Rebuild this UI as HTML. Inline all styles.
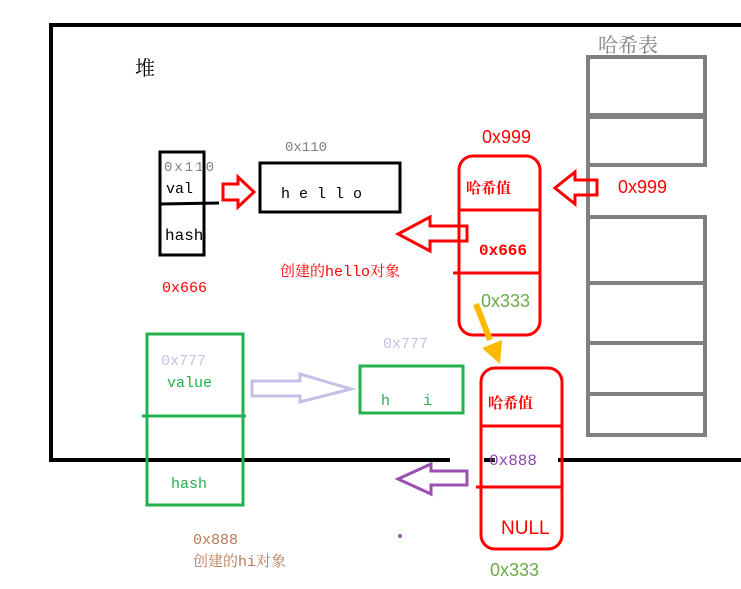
<!DOCTYPE html>
<html><head><meta charset="utf-8"><style>
html,body{margin:0;padding:0;background:#fff;}
svg{display:block;}
text{font-family:"Liberation Mono","Noto Serif CJK SC",monospace;}
.s{font-family:"Liberation Sans","Noto Sans CJK SC",sans-serif;}
.c{font-family:"Noto Serif CJK SC","Liberation Serif",serif;}
</style></head><body>
<svg width="741" height="589" viewBox="0 0 741 589" xmlns="http://www.w3.org/2000/svg">
<path d="M741 25 H51 V460 H450 M484 460 H495 M558 460 H741" fill="none" stroke="#000" stroke-width="4"/>
<text class="c" x="135" y="75" font-size="20" fill="#000">堆</text>
<text class="c" x="598" y="52" font-size="20" fill="#808080">哈希表</text>
<g fill="none" stroke="#808080" stroke-width="4">
<line x1="588" y1="55" x2="588" y2="437"/>
<rect x="588" y="57" width="117" height="58"/>
<rect x="588" y="117" width="117" height="48"/>
<rect x="588" y="217" width="117" height="218"/>
<line x1="590" y1="283" x2="705" y2="283"/>
<line x1="588" y1="343" x2="705" y2="343"/>
<line x1="588" y1="394" x2="705" y2="394"/>
</g>
<rect x="160" y="152" width="44" height="103" fill="none" stroke="#000" stroke-width="3"/>
<line x1="160" y1="204" x2="219" y2="203" stroke="#000" stroke-width="3"/>
<text x="164" y="171" font-size="14" fill="#808080" textLength="50">0x110</text>
<text x="166" y="193" font-size="15" fill="#000">val</text>
<text x="165" y="240" font-size="16" fill="#000">hash</text>
<text x="162" y="292" font-size="15" fill="#f00">0x666</text>
<rect x="260" y="163" width="140" height="49" fill="none" stroke="#000" stroke-width="3"/>
<text x="285" y="151" font-size="14" fill="#808080">0x110</text>
<text x="281" y="198" font-size="15" fill="#000" letter-spacing="9">hello</text>
<path d="M223 184 H238 V177 L254 192 L238 207 V200 H223 Z" fill="none" stroke="#f00" stroke-width="3"/>
<text x="280" y="276" font-size="15" fill="#f00">创建的hello对象</text>
<rect x="459" y="156" width="81" height="179" rx="14" fill="none" stroke="#f00" stroke-width="3"/>
<line x1="459" y1="210" x2="540" y2="210" stroke="#f00" stroke-width="3"/>
<line x1="453" y1="273" x2="540" y2="273" stroke="#f00" stroke-width="3"/>
<text class="s" x="482" y="143" font-size="18" fill="#f00">0x999</text>
<text class="c" x="466" y="193" font-size="15" fill="#f00" font-weight="bold">哈希值</text>
<text x="479" y="255" font-size="16" fill="#f00" font-weight="bold">0x666</text>
<text class="s" x="481" y="307" font-size="18" fill="#6aaa48">0x333</text>
<path d="M467 226 V241 H430 V251 L398 234 L430 217 V226 Z" fill="none" stroke="#f00" stroke-width="3"/>
<path d="M597 180 V195 H575 V204 L555 188 L575 172 V180 Z" fill="none" stroke="#f00" stroke-width="3"/>
<text class="s" x="618" y="193" font-size="18" fill="#f00">0x999</text>
<line x1="476" y1="304" x2="490" y2="340" stroke="#ffb900" stroke-width="6"/>
<polygon points="482,348 502,340 500,364" fill="#ffb900"/>
<rect x="481" y="368" width="81" height="181" rx="14" fill="none" stroke="#f00" stroke-width="3"/>
<line x1="481" y1="426" x2="562" y2="426" stroke="#f00" stroke-width="3"/>
<line x1="476" y1="487" x2="562" y2="487" stroke="#f00" stroke-width="3"/>
<text class="c" x="488" y="408" font-size="15" fill="#f00" font-weight="bold">哈希值</text>
<text x="489" y="465" font-size="16" fill="#8e44ad">0x888</text>
<text class="s" x="501" y="534" font-size="19" fill="#f00">NULL</text>
<text class="s" x="490" y="576" font-size="18" fill="#6aaa48">0x333</text>
<path d="M467 471 V485 H431 V494 L398 479 L431 464 V471 Z" fill="none" stroke="#9b4fb0" stroke-width="3"/>
<circle cx="400" cy="536" r="2" fill="#9b4fb0"/>
<rect x="147" y="334" width="96" height="171" fill="none" stroke="#22b14c" stroke-width="3"/>
<line x1="142" y1="416" x2="246" y2="416" stroke="#22b14c" stroke-width="3"/>
<text x="161" y="365" font-size="15" fill="#c8bfe7">0x777</text>
<text x="167" y="387" font-size="15" fill="#22b14c">value</text>
<text x="171" y="488" font-size="15" fill="#22b14c">hash</text>
<text x="193" y="544" font-size="15" fill="#b97a57">0x888</text>
<text x="193" y="566" font-size="15" fill="#b97a57">创建的hi对象</text>
<path d="M252 381 H300 V374 L351 389 L300 402 V396 H252 Z" fill="none" stroke="#c8bfe7" stroke-width="3"/>
<rect x="360" y="366" width="103" height="47" fill="none" stroke="#22b14c" stroke-width="3"/>
<text x="383" y="348" font-size="15" fill="#c8bfe7">0x777</text>
<text x="381" y="405" font-size="15" fill="#22b14c">h</text>
<text x="423" y="405" font-size="15" fill="#22b14c">i</text>
</svg>
</body></html>
